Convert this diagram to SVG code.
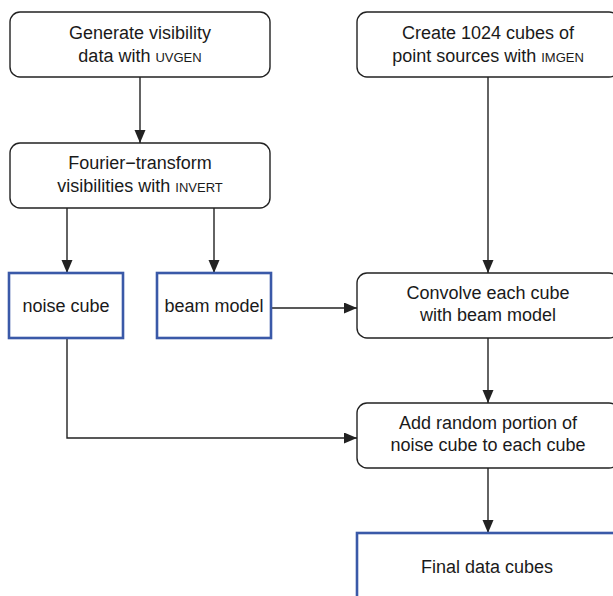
<svg xmlns="http://www.w3.org/2000/svg" width="613" height="596" viewBox="0 0 613 596">
<defs>
<marker id="ah" markerWidth="14" markerHeight="12" refX="13" refY="5.5" orient="auto" markerUnits="userSpaceOnUse">
<path d="M0,0 L13,5.5 L0,11 Z" fill="#222"/>
</marker>
<style>
.proc{fill:#fff;stroke:#222;stroke-width:1.4}
.data{fill:#fff;stroke:#3a59a8;stroke-width:2.6}
.t{font-family:"Liberation Sans",Arial,sans-serif;font-size:18px;fill:#1a1a1a;text-anchor:middle}
.sc{font-size:13px}
.c{fill:none;stroke:#222;stroke-width:1.4}
</style>
</defs>
<rect width="613" height="596" fill="#fff"/>
<g id="connectors">
<line class="c" x1="140" y1="77" x2="140" y2="143" marker-end="url(#ah)"/>
<line class="c" x1="67" y1="208" x2="67" y2="273" marker-end="url(#ah)"/>
<line class="c" x1="214" y1="208" x2="214" y2="273" marker-end="url(#ah)"/>
<line class="c" x1="488" y1="77" x2="488" y2="273" marker-end="url(#ah)"/>
<line class="c" x1="271" y1="308" x2="357" y2="308" marker-end="url(#ah)"/>
<polyline class="c" points="67,338 67,438 357,438" marker-end="url(#ah)"/>
<line class="c" x1="488" y1="338" x2="488" y2="403" marker-end="url(#ah)"/>
<line class="c" x1="488" y1="468" x2="488" y2="533" marker-end="url(#ah)"/>
</g>
<g id="uvgen">
<rect class="proc" x="10" y="12" width="260" height="65" rx="10"/>
<text class="t" x="140" y="39">Generate visibility</text>
<text class="t" x="140" y="62">data with <tspan class="sc">UVGEN</tspan></text>
</g>
<g id="invert">
<rect class="proc" x="10" y="143" width="260" height="65" rx="10"/>
<text class="t" x="140" y="169">Fourier−transform</text>
<text class="t" x="140" y="192">visibilities with <tspan class="sc">INVERT</tspan></text>
</g>
<g id="imgen">
<rect class="proc" x="357" y="12" width="262" height="65" rx="10"/>
<text class="t" x="488" y="39">Create 1024 cubes of</text>
<text class="t" x="488" y="62">point sources with <tspan class="sc">IMGEN</tspan></text>
</g>
<g id="noise">
<rect class="data" x="9" y="273" width="114" height="65"/>
<text class="t" x="66" y="312">noise cube</text>
</g>
<g id="beam">
<rect class="data" x="157" y="273" width="114" height="65"/>
<text class="t" x="214" y="312">beam model</text>
</g>
<g id="convolve">
<rect class="proc" x="357" y="273" width="262" height="65" rx="10"/>
<text class="t" x="488" y="299">Convolve each cube</text>
<text class="t" x="488" y="321">with beam model</text>
</g>
<g id="addnoise">
<rect class="proc" x="357" y="403" width="262" height="65" rx="10"/>
<text class="t" x="488" y="429">Add random portion of</text>
<text class="t" x="488" y="451">noise cube to each cube</text>
</g>
<g id="final">
<rect class="data" x="357" y="533" width="262" height="80"/>
<text class="t" x="487" y="573">Final data cubes</text>
</g>
</svg>
